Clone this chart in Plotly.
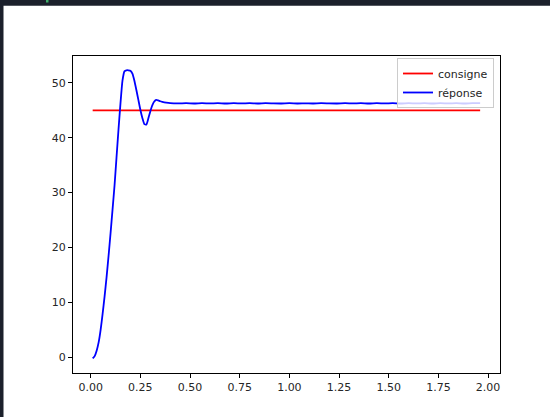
import plotly.graph_objects as go

# ---- data ----
consigne_t = [0.01, 1.96]
consigne_v = [45.0, 45.0]

reponse_t = [
    0.01, 0.02, 0.03, 0.04, 0.05, 0.06, 0.07, 0.08, 0.09, 0.10,
    0.11, 0.12, 0.13, 0.14, 0.15, 0.16, 0.17, 0.18, 0.19, 0.20,
    0.21, 0.22, 0.23, 0.24, 0.25, 0.26, 0.27, 0.28, 0.29, 0.30,
    0.31, 0.32, 0.33, 0.34, 0.35, 0.36, 0.38, 0.40, 0.44, 0.48,
    0.52, 0.56, 0.60, 0.64, 0.68, 0.72, 0.76, 0.80, 0.84, 0.88,
    0.92, 0.96, 1.00, 1.04, 1.08, 1.12, 1.16, 1.20, 1.24, 1.28,
    1.32, 1.36, 1.40, 1.44, 1.48, 1.52, 1.56, 1.60, 1.64, 1.68,
    1.72, 1.76, 1.80, 1.84, 1.88, 1.92, 1.96,
]
reponse_v = [
    -0.2, 0.2, 1.2, 2.7, 5.0, 7.9, 11.1, 14.6, 18.5, 22.6,
    26.9, 31.3, 36.4, 41.5, 46.3, 50.4, 52.1, 52.3, 52.3, 52.2,
    51.7, 50.4, 48.7, 46.9, 45.1, 43.6, 42.5, 42.4, 43.5, 44.8,
    45.9, 46.6, 46.9, 46.8, 46.65, 46.55, 46.4, 46.3, 46.25, 46.3,
    46.24, 46.3, 46.26, 46.3, 46.24, 46.3, 46.26, 46.3, 46.24, 46.3,
    46.26, 46.24, 46.3, 46.24, 46.26, 46.24, 46.3, 46.26, 46.24, 46.3,
    46.26, 46.3, 46.24, 46.3, 46.26, 46.3, 46.24, 46.3, 46.26, 46.3,
    46.24, 46.3, 46.26, 46.3, 46.24, 46.3, 46.3,
]

x_ticks = [0.0, 0.25, 0.5, 0.75, 1.0, 1.25, 1.5, 1.75, 2.0]
y_ticks = [0, 10, 20, 30, 40, 50]

# ---- layout geometry (pixels) ----
W, H = 550, 417
L, R, T, B = 73, 500, 56, 373
pw, ph = R - L, B - T

def px_x(px):
    return (px - L) / pw

def px_y(py):
    return 1 - (py - T) / ph

font = dict(family="DejaVu Sans", size=11, color="#262626")

fig = go.Figure()
fig.add_trace(go.Scatter(x=consigne_t, y=consigne_v, mode="lines", name="consigne",
                         line=dict(color="#ff0000", width=1.8)))
fig.add_trace(go.Scatter(x=reponse_t, y=reponse_v, mode="lines", name="réponse",
                         line=dict(color="#0000ff", width=1.8, shape="spline", smoothing=0.5)))

axis_common = dict(showgrid=False, zeroline=False, showline=True, linecolor="#000000",
                   linewidth=1, mirror=True, ticks="outside", ticklen=4, tickwidth=1,
                   tickcolor="#000000", tickfont=font)

fig.update_layout(
    width=W, height=H,
    margin=dict(l=L, r=W - R, t=T, b=H - B, pad=0),
    paper_bgcolor="#ffffff", plot_bgcolor="#ffffff",
    font=font,
    showlegend=True,
    legend=dict(x=px_x(494), y=px_y(58), xanchor="right", yanchor="top",
                bgcolor="rgba(255,255,255,0.8)", bordercolor="#cccccc", borderwidth=1,
                font=font, tracegroupgap=0),
    xaxis=dict(range=[-0.089, 2.06], tickvals=x_ticks, tickformat=".2f", **axis_common),
    yaxis=dict(range=[-2.87, 54.9], tickvals=y_ticks, **axis_common),
    shapes=[
        # dark window border (top and left) from the screenshot
        dict(type="rect", xref="paper", yref="paper", x0=px_x(-5), x1=px_x(W + 5),
             y0=px_y(5.7), y1=px_y(-5), fillcolor="#1b202b", line=dict(width=0), layer="above"),
        dict(type="rect", xref="paper", yref="paper", x0=px_x(-5), x1=px_x(3.5),
             y0=px_y(H + 5), y1=px_y(-5), fillcolor="#1b202b", line=dict(width=0), layer="above"),
        dict(type="rect", xref="paper", yref="paper", x0=px_x(46), x1=px_x(48.5),
             y0=px_y(2.5), y1=px_y(-1), fillcolor="#3fae6a", line=dict(width=0), layer="above"),
    ],
)

fig.write_html("out.html")
